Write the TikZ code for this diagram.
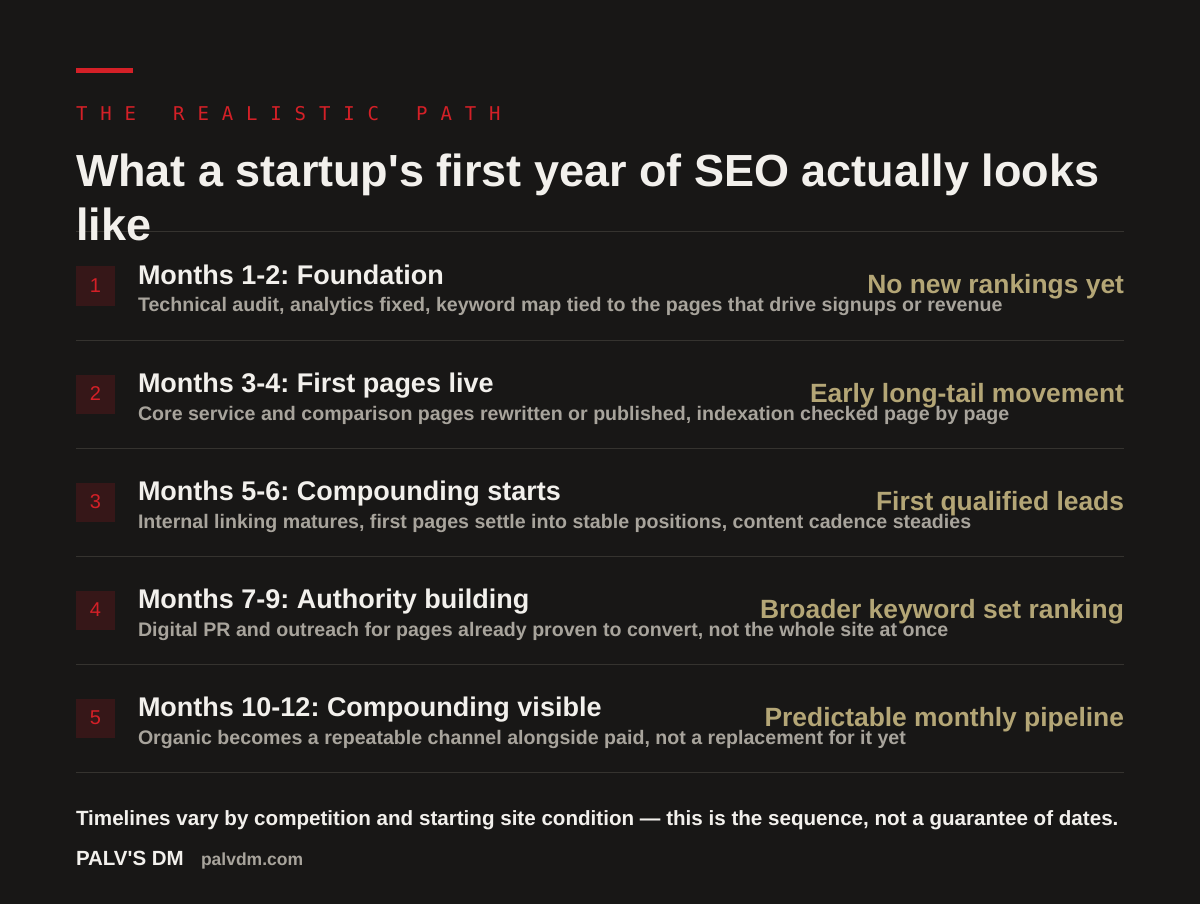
\documentclass[tikz,border=0pt]{standalone}
\usepackage{fontspec}
\setmainfont{Liberation Sans}
\newfontfamily\monofam{DejaVu Sans Mono}
\definecolor{bg}{HTML}{181716}
\definecolor{accent}{HTML}{D42027}
\definecolor{boxfill}{HTML}{361718}
\definecolor{titlec}{HTML}{F2F0EC}
\definecolor{subc}{HTML}{A8A49C}
\definecolor{goldc}{HTML}{B4A676}
\definecolor{rulec}{HTML}{35332F}
\tikzset{
  txt/.style={inner sep=0pt, outer sep=0pt, anchor=base west},
  rtxt/.style={inner sep=0pt, outer sep=0pt, anchor=base east},
  kicker/.style={txt, text=accent, font=\monofam\fontsize{19}{19}\selectfont},
  headline/.style={txt, text=titlec, font=\bfseries\fontsize{45}{45}\selectfont},
  rowtitle/.style={txt, text=titlec, font=\bfseries\fontsize{27}{27}\selectfont},
  rowsub/.style={txt, text=subc, font=\bfseries\fontsize{19.6}{19.6}\selectfont},
  rowtag/.style={rtxt, text=goldc, font=\bfseries\fontsize{26.4}{26.4}\selectfont},
  numbox/.style={fill=boxfill, minimum width=39pt, minimum height=39pt, inner sep=0pt, text=accent, font=\fontsize{20}{20}\selectfont},
  sep/.style={draw=rulec, line width=1pt},
}
\begin{document}
\frenchspacing
\begin{tikzpicture}[x=1pt,y=-1pt]
\fill[bg] (0,0) rectangle (1200,904);
\useasboundingbox (0,0) rectangle (1200,904);
\fill[accent] (76,68) rectangle (133,73);
\foreach \c [count=\i from 0] in {T,H,E, ,R,E,A,L,I,S,T,I,C, ,P,A,T,H}{
  \node[kicker] (k\i) at (76+\i*24.3,121) {\c};
}
\coordinate (s0l) at (76,232); \coordinate (s0r) at (1124,232);
\draw[sep] (s0l) -- (s0r);
\node[headline] (h1) at (76,187) {What a startup\textquotesingle s first year of SEO actually looks};
\node[headline] (h2) at (76,241) {like};
\foreach \n/\t/\s/\g [count=\r from 0] in {
 1/{Months 1-2: Foundation}/{Technical audit, analytics fixed, keyword map tied to the pages that drive signups or revenue}/{No new rankings yet},
 2/{Months 3-4: First pages live}/{Core service and comparison pages rewritten or published, indexation checked page by page}/{Early long-tail movement},
 3/{Months 5-6: Compounding starts}/{Internal linking matures, first pages settle into stable positions, content cadence steadies}/{First qualified leads},
 4/{Months 7-9: Authority building}/{Digital PR and outreach for pages already proven to convert, not the whole site at once}/{Broader keyword set ranking},
 5/{Months 10-12: Compounding visible}/{Organic becomes a repeatable channel alongside paid, not a replacement for it yet}/{Predictable monthly pipeline}}{
  \pgfmathsetmacro{\yy}{232+108*\r}
  \node[numbox] (b\n) at (95.5,\yy+54) {\n};
  \node[rowtitle] (t\n) at (138,\yy+52) {\t};
  \node[rowsub] (d\n) at (138,\yy+80) {\s};
  \node[rowtag] (g\n) at (1124,\yy+62) {\g};
  \coordinate (sl\n) at (76,\yy+108); \coordinate (sr\n) at (1124,\yy+108);
  \draw[sep] (sl\n) -- (sr\n);
}
\node[txt, text=titlec, font=\bfseries\fontsize{20.6}{20.6}\selectfont] (foot) at (76,825) {Timelines vary by competition and starting site condition — this is the sequence, not a guarantee of dates.};
\node[txt, text=titlec, font=\bfseries\fontsize{20.5}{20.5}\selectfont] (brand) at (76,865) {PALV\textquotesingle S DM};
\node[txt, text=subc, font=\bfseries\fontsize{17.5}{17.5}\selectfont] (url) at (201,865) {palvdm.com};
\end{tikzpicture}
\end{document}
